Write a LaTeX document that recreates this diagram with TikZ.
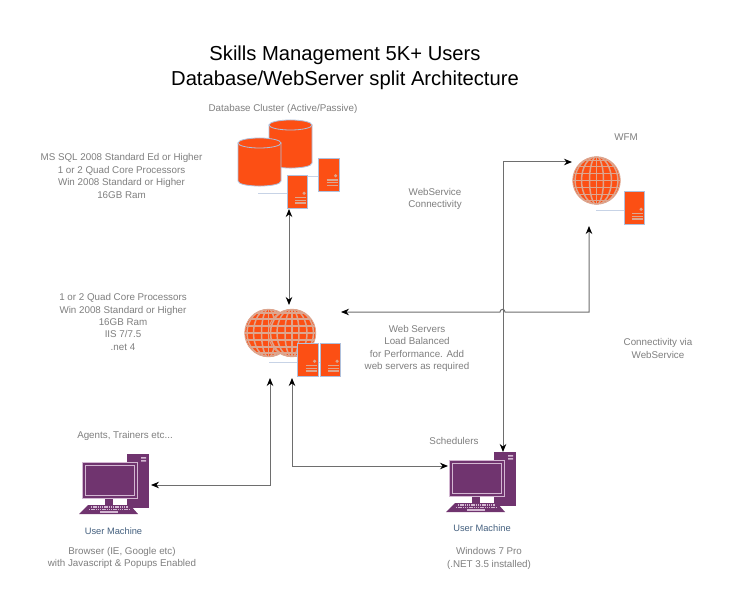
\documentclass[tikz,border=0pt]{standalone}
\usepackage{fontspec}
\setmainfont{Liberation Sans}
\usetikzlibrary{arrows.meta}
\definecolor{redorange}{HTML}{FC4F14}
\definecolor{gridtan}{HTML}{DDA68F}
\definecolor{edgeblue}{HTML}{AFC0DC}
\definecolor{plum}{HTML}{70346F}
\definecolor{plumline}{HTML}{D3B7D2}
\definecolor{captiongrey}{HTML}{7F7F7F}
\definecolor{machineblue}{HTML}{44607F}
\definecolor{wiregrey}{HTML}{6E6E6E}
\tikzset{
  caption/.style={text=captiongrey,font=\fontsize{9.8}{12.4}\selectfont,align=center,inner sep=0pt},
  machinelabel/.style={text=machineblue,font=\fontsize{9.3}{10}\selectfont,inner sep=0pt},
  titletext/.style={font=\fontsize{20.2}{25}\selectfont,align=center,inner sep=0pt},
  wire/.style={draw=wiregrey,line width=1pt,{Stealth[black,length=8pt,width=6.5pt]}-{Stealth[black,length=8pt,width=6.5pt]}},
  leader/.style={draw=edgeblue!70!white,line width=0.8pt},
  pics/dbdisk/.style={code={
    \filldraw[draw=edgeblue,fill=redorange,line width=0.8pt] (-21.5,0) -- (-21.5,38)
       .. controls (-21.5,44.7) and (21.5,44.7) .. (21.5,38) -- (21.5,0) -- cycle;
    \filldraw[draw=edgeblue,fill=redorange,line width=0.8pt] (0,0) ellipse (21.5pt and 5pt);
  }},
  serverbox/.style={rectangle,draw=edgeblue,fill=redorange,line width=0.6pt,minimum width=20.5pt,minimum height=33pt,inner sep=0pt,
    path picture={
      \fill[gridtan] ([xshift=6.6pt,yshift=-1.3pt]path picture bounding box.center) circle (1.7pt);
      \foreach \barpos in {5.5,8.3,11.1}
        \draw[gridtan,line width=1.3pt] ([xshift=-2.5pt,yshift=-\barpos pt]path picture bounding box.center) -- ++(11pt,0pt);
    }},
  globe/.style={circle,draw=gridtan,fill=redorange,line width=0.9pt,minimum size=47.5pt,inner sep=0pt,
    path picture={
      \foreach \lonrad in {7,15,21.5}
        \draw[gridtan,line width=1.5pt] (path picture bounding box.center) ellipse (\lonrad pt and 24pt);
      \draw[gridtan,line width=1.5pt] ([yshift=24pt]path picture bounding box.center) -- ([yshift=-24pt]path picture bounding box.center);
      \foreach \latpos in {-20,-14,-7,0,7,14,20}
        \draw[gridtan,line width=1.5pt] ([xshift=-24pt,yshift=\latpos pt]path picture bounding box.center) -- ++(48pt,0pt);
    }},
  pics/usermachine/.style={code={
    \fill[plum] (45,-8) rectangle (67,46);
    \fill[plumline] (59,-5) rectangle (64,-3.3) (59,-2) rectangle (64,-0.3);
    \fill[plum] (23,36) rectangle (31,43);
    \node[rectangle,draw=plumline,fill=plum,line width=0.5pt,minimum width=55pt,minimum height=36pt,inner sep=0pt] (-monitor) at (27.5,18) {};
    \draw[plumline,line width=0.8pt] (3,3) rectangle (52,33);
    \fill[plum] (-3,52) -- (6,43) -- (48,43) -- (56,52) -- cycle;
    \draw[plumline,line width=1.1pt,dash pattern=on 1.4pt off 0.8pt] (9,45) -- (46,45) (7,47.5) -- (48,47.5);
    \draw[plumline,line width=1.1pt] (18,50) -- (36,50);
  }}
}
\begin{document}
\begin{tikzpicture}[x=1pt,y=-1pt]
      \useasboundingbox (0,0) rectangle (750,599);
      \fill[white] (0,0) rectangle (750,599);

      \node[titletext] (title) at (345,68) {Skills Management 5K+ Users\\Database/WebServer split Architecture};

      % database cluster
      \pic (dbdiskback) at (290.5,125) {dbdisk};
      \pic (dbdiskfront) at (259.5,143) {dbdisk};
      \draw[leader] (318,176) -- (308,176);
      \draw[leader] (258,193) -- (287,193);
      \node[serverbox] (dbserverback) at (329,174.5) {};
      \node[serverbox] (dbserverfront) at (297.5,192) {};

      % web servers
      \node[globe] (webglobeleft) at (268.5,333) {};
      \node[globe] (webglobe) at (292,333) {};
      \draw[leader] (269,362) -- (322,362);
      \node[serverbox] (webserverleft) at (308,360) {};
      \node[serverbox] (webserver) at (330.5,360) {};

      % wfm
      \node[globe] (wfmglobe) at (596.5,180.5) {};
      \draw[leader] (596,210) -- (625,210);
      \node[serverbox] (wfmserver) at (634.5,208) {};

      \pic (agentpc) at (82,462) {usermachine};
      \pic (schedulerpc) at (449,460) {usermachine};

      \coordinate (dbport) at (289,209);
      \coordinate (webtop) at (289,305);
      \coordinate (webright) at (341,312);
      \coordinate (webbottomA) at (270,378);
      \coordinate (webbottomB) at (292,378);
      \coordinate (wfmleft) at (572,162);
      \coordinate (wfmbottom) at (589,226);
      \coordinate (agentport) at (151,485);
      \coordinate (schedulerleft) at (448,466);
      \coordinate (schedulertop) at (503,452);

      \draw[wire] (dbport) -- (webtop);
      \draw[wire] (webbottomA) |- (agentport);
      \draw[wire] (webbottomB) |- (schedulerleft);
      \draw[wire] (wfmleft) -| (schedulertop);
      \draw[wire] (webright) -- (500,312) .. controls (500,308.5) and (505,308.5) .. (505,312) -| (wfmbottom);

      \node[caption] (dbcaption) at (283,108.5) {Database Cluster (Active/Passive)};
      \node[caption] (dbspec) at (121.5,176) {MS SQL 2008 Standard Ed or Higher\\1 or 2 Quad Core Processors\\Win 2008 Standard or Higher\\16GB Ram};
      \node[caption] (wsconn) at (435,199) {WebService\\Connectivity};
      \node[caption] (wfmcaption) at (626,137) {WFM};
      \node[caption] (webspec) at (123,322) {1 or 2 Quad Core Processors\\Win 2008 Standard or Higher\\16GB Ram\\IIS 7/7.5\\.net 4};
      \node[caption] (webnote) at (417,348.5) {Web Servers\\Load Balanced\\for Performance. Add\\web servers as required};
      \node[caption] (wfmconn) at (658,348.5) {Connectivity via\\WebService};
      \node[caption] (agentcaption) at (125,435.5) {Agents, Trainers etc...};
      \node[caption] (schedcaption) at (454,440.5) {Schedulers};
      \node[machinelabel] (agentlabel) at (113.5,531) {User Machine};
      \node[machinelabel] (schedlabel) at (482,528) {User Machine};
      \node[caption] (agentspec) at (122,558) {Browser (IE, Google etc)\\with Javascript \& Popups Enabled};
      \node[caption] (schedspec) at (489,558.5) {Windows 7 Pro\\(.NET 3.5 installed)};
\end{tikzpicture}
\end{document}
